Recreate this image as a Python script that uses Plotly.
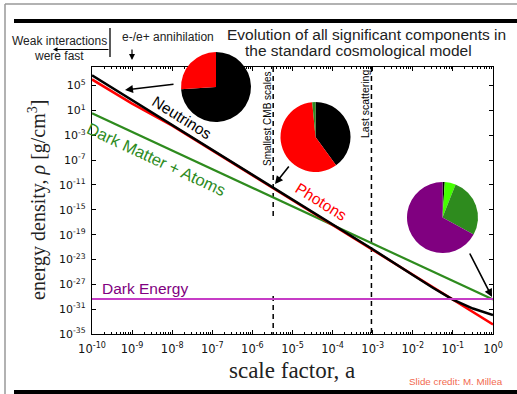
import plotly.graph_objects as go

W, H = 517, 394

# ---------------- data ----------------
loga_photons = [-10, -9, -8, 0]
logrho_photons = [6.0, 2.1, -1.45, -33.45]

loga_neutrinos = [-10, -3, -2, -1.5, -1, -0.5, 0]
logrho_neutrinos = [6.65, -21.35, -25.5, -27.55, -29.45, -30.9, -31.94]

loga_matter = [-10, -5, 0]
logrho_matter = [0.55, -14.45, -29.45]

loga_darkenergy = [-10, 0]
logrho_darkenergy = [-29.36, -29.36]

a_smallest_cmb = 3.3e-6
a_last_scattering = 9.3e-4

pie_early_labels = ["Neutrinos", "Photons"]
pie_early_values = [74, 26]
pie_cmb_labels = ["Neutrinos", "Photons", "Dark Matter + Atoms"]
pie_cmb_values = [40, 58.5, 1.5]
pie_today_labels = ["Neutrinos", "Atoms", "Dark Matter", "Dark Energy"]
pie_today_values = [1, 5, 27, 67]

x_tick_exponents = list(range(-10, 1))
y_tick_exponents = list(range(5, -36, -4))

# ---------------- helpers (figure pixel -> paper) ----------------
def px(x):
    return x / W

def py(y):
    return 1 - y / H

BLACK = "#000000"
RED = "#ff0000"
GREEN = "#2e8b1e"
MAGENTA = "#c63cc6"
PURPLE = "#800080"
LIME = "#44ff00"

fig = go.Figure()

def pw(vals):
    return [10 ** v for v in vals]

# dashed vertical markers
fig.add_trace(go.Scatter(
    x=[a_smallest_cmb, a_smallest_cmb, None, a_smallest_cmb, a_smallest_cmb],
    y=[1e8, 1e-16, None, 10 ** -28.9, 1e-35],
    mode="lines", line=dict(color=BLACK, width=1.5, dash="5px,4px"),
    hoverinfo="skip", showlegend=False))
fig.add_trace(go.Scatter(
    x=[a_last_scattering, a_last_scattering], y=[1e8, 1e-35],
    mode="lines", line=dict(color=BLACK, width=1.5, dash="5px,4px"),
    hoverinfo="skip", showlegend=False))

fig.add_trace(go.Scatter(x=pw(loga_matter), y=pw(logrho_matter), mode="lines",
                         line=dict(color=GREEN, width=2.2), name="Dark Matter + Atoms"))
fig.add_trace(go.Scatter(x=pw(loga_photons), y=pw(logrho_photons), mode="lines",
                         line=dict(color=RED, width=2.5), name="Photons"))
fig.add_trace(go.Scatter(x=pw(loga_neutrinos), y=pw(logrho_neutrinos), mode="lines",
                         line=dict(color=BLACK, width=2.5), name="Neutrinos"))
fig.add_trace(go.Scatter(x=pw(loga_darkenergy), y=pw(logrho_darkenergy), mode="lines",
                         line=dict(color=MAGENTA, width=2.2), name="Dark Energy"))

# pies
def pie(values, labels, colors, cx, cy, r):
    return go.Pie(values=values, labels=labels, sort=False, direction="clockwise",
                  rotation=0, textinfo="none", hoverinfo="skip", showlegend=False,
                  marker=dict(colors=colors, line=dict(width=0)), automargin=False,
                  domain=dict(x=[px(cx - r), px(cx + r)], y=[py(cy + r), py(cy - r)]))

fig.add_trace(pie(pie_early_values, pie_early_labels, [BLACK, RED], 216, 87, 35))
fig.add_trace(pie(pie_cmb_values, pie_cmb_labels, [BLACK, RED, GREEN], 315.5, 137, 35))
fig.add_trace(pie(pie_today_values, pie_today_labels, [BLACK, LIME, GREEN, PURPLE], 442.5, 217.5, 35.5))

x_minor = [m * 10 ** k for k in range(-10, 0) for m in range(2, 10)]

fig.update_layout(
    width=W, height=H, margin=dict(l=0, r=0, t=0, b=0, autoexpand=False),
    paper_bgcolor="white", plot_bgcolor="white", showlegend=False,
    xaxis=dict(type="log", range=[-10, 0], domain=[px(92), px(493)], automargin=False,
               tickmode="array", tickvals=[10 ** k for k in x_tick_exponents],
               ticktext=["10<sup>%d</sup>" % k for k in x_tick_exponents],
               ticks="inside", ticklen=4, tickwidth=1, tickcolor=BLACK,
               showline=True, linecolor=BLACK, linewidth=1.3, mirror="ticks",
               showgrid=False, zeroline=False, ticklabelstandoff=4,
               tickfont=dict(family="DejaVu Sans", size=11.5, color="#111"),
               minor=dict(tickmode="array", tickvals=x_minor, ticks="inside",
                          ticklen=2, tickcolor=BLACK, showgrid=False)),
    yaxis=dict(type="log", range=[-35, 8], domain=[py(334), py(67)], automargin=False,
               tickmode="array", tickvals=[10 ** k for k in y_tick_exponents],
               ticktext=["10<sup>%d</sup>" % k for k in y_tick_exponents],
               ticks="inside", ticklen=4, tickwidth=1, tickcolor=BLACK,
               showline=True, linecolor=BLACK, linewidth=1.3, mirror="ticks",
               showgrid=False, zeroline=False, ticklabelstandoff=3,
               tickfont=dict(family="DejaVu Sans", size=11, color="#111")),
)

SANS = "Liberation Sans"
SERIF = "Liberation Serif"

def note(text, x, y, size, color="#222", family=SANS, angle=0, xanchor="center", yanchor="middle"):
    fig.add_annotation(text=text, x=px(x), y=py(y), xref="paper", yref="paper",
                       showarrow=False, textangle=angle, xanchor=xanchor, yanchor=yanchor,
                       borderpad=0, font=dict(family=family, size=size, color=color))

def arrow(x0, y0, x1, y1, width=1.6, size=1.0, head=2):
    fig.add_annotation(x=px(x1), y=py(y1), xref="paper", yref="paper", text="",
                       showarrow=True, ax=x0 - x1, ay=y0 - y1, axref="pixel", ayref="pixel",
                       arrowhead=head, arrowsize=size, arrowwidth=width, arrowcolor=BLACK)

# axis titles
note("scale factor, a", 292, 370, 23, family=SERIF)
note("energy density, <i>ρ</i> [g/cm<sup>3</sup>]", 37, 200, 20, family=SERIF, angle=-90)

# header
note("Evolution of all significant components in", 366, 35, 15.5)
note("the standard cosmological model", 358, 50, 15.5)
note("Weak interactions", 59, 40.5, 12)
note("were fast", 59, 56, 12)
note("e-/e+ annihilation", 168, 37, 12)
note("Slide credit: M. Millea", 456, 381, 9.8, color="#f26a50")

# line labels
note("Neutrinos", 182, 117, 15.5, color=BLACK, angle=32)
note("Photons", 321, 201, 15.5, color=RED, angle=32)
note("Dark Matter + Atoms", 156, 159, 16.5, color=GREEN, angle=25)
note("Dark Energy", 101, 288, 15.5, color=PURPLE, xanchor="left")
note("Smallest CMB scales", 268, 119, 10, color=BLACK, angle=-90)
note("Last scattering", 365, 104, 10.5, color=BLACK, angle=-90)

# arrows
arrow(175, 84, 125, 90)
arrow(290, 165, 275, 184)
arrow(469, 252, 492, 297)
arrow(110, 49.5, 53, 49.5, width=1, size=0.9)
arrow(132, 48, 132, 60, width=1.2, size=1.0)

# frame shapes
shapes = [
    dict(type="line", xref="paper", yref="paper", x0=px(5), x1=1, y0=py(4), y1=py(4),
         line=dict(color="#999", width=1.5)),
    dict(type="line", xref="paper", yref="paper", x0=px(5), x1=px(5), y0=py(4), y1=0,
         line=dict(color="#999", width=1.5)),
    dict(type="line", xref="paper", yref="paper", x0=px(14), x1=1, y0=py(21), y1=py(21),
         line=dict(color=BLACK, width=4)),
    dict(type="line", xref="paper", yref="paper", x0=px(14), x1=1, y0=py(392), y1=py(392),
         line=dict(color=BLACK, width=4)),
    dict(type="line", xref="paper", yref="paper", x0=px(110), x1=px(110), y0=py(28), y1=py(57),
         line=dict(color=BLACK, width=1.3)),
]
fig.update_layout(shapes=shapes)

fig.write_html("out.html")
